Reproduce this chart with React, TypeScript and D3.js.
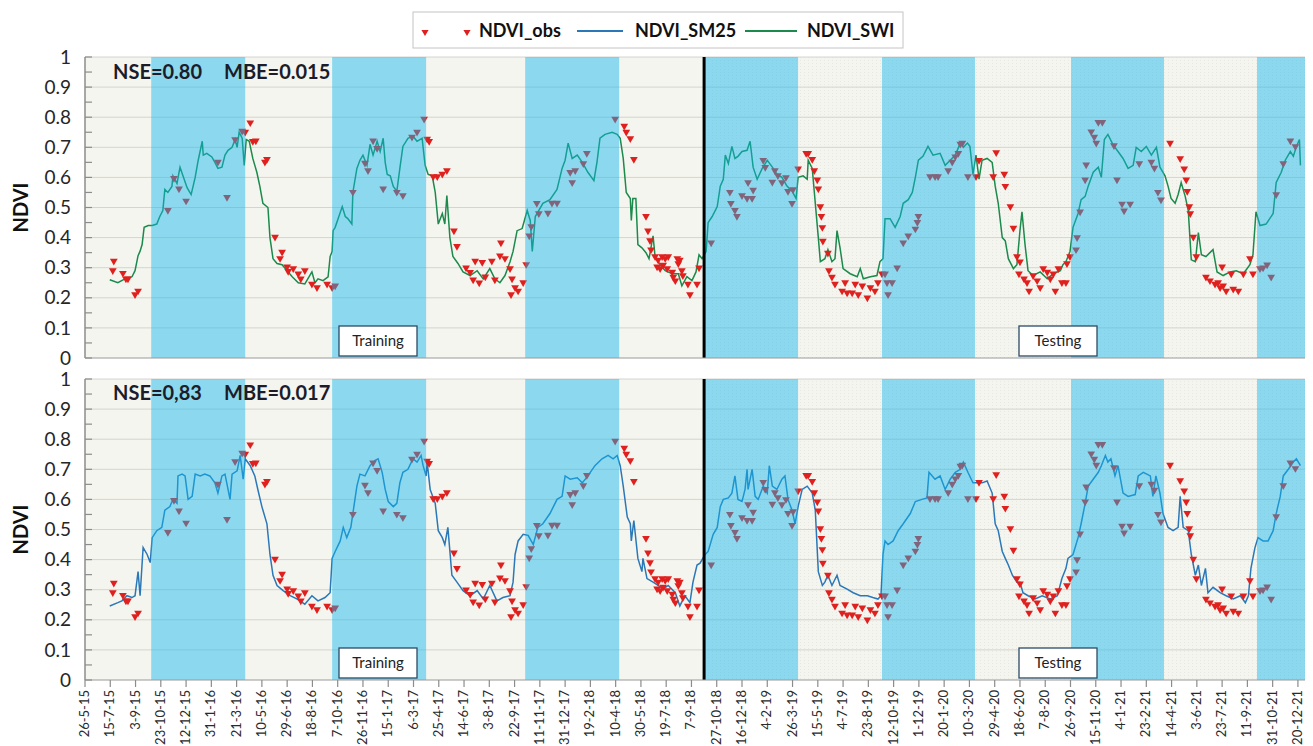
import React, { useEffect, useRef } from "react";
import * as d3 from "d3";

// days are counted from the first tick date, 26-5-2015
const startDate = new Date(2015, 4, 26);
const lastDay = 2414;
const tickDays = d3.range(0, 2401, 50);

// wet season (blue) bands, in days since start
const bandStart = [131, 489, 871, 1225, 1577, 1951, 2319];
const bandEnd = [317, 675, 1057, 1411, 1761, 2135, 2414];
// end of training / start of testing
const splitDay = 1225;

// NDVI_SWI model (top panel), [day, ndvi]
const swiSeries: [number, number][] = [
  [49, 0.26], [65, 0.25], [79, 0.263], [93, 0.27], [99, 0.29], [105, 0.34], [109, 0.355], [113, 0.377], [117, 0.434],
  [125, 0.44], [133, 0.44], [142, 0.445], [148, 0.47], [154, 0.49], [158, 0.56], [164, 0.55], [172, 0.57], [174, 0.605],
  [182, 0.58], [188, 0.634], [194, 0.605], [202, 0.566], [210, 0.543], [218, 0.6], [224, 0.657], [232, 0.72], [234, 0.674],
  [241, 0.68], [251, 0.668], [257, 0.65], [263, 0.63], [271, 0.634], [277, 0.674], [283, 0.69], [291, 0.7], [297, 0.726],
  [301, 0.7], [305, 0.75], [311, 0.73], [315, 0.64], [319, 0.726], [325, 0.72], [332, 0.663], [340, 0.617], [346, 0.57],
  [352, 0.514], [362, 0.5], [366, 0.4], [372, 0.33], [380, 0.314], [390, 0.31], [400, 0.29], [410, 0.27], [422, 0.25],
  [435, 0.246], [449, 0.286], [455, 0.25], [461, 0.263], [471, 0.257], [481, 0.27], [485, 0.337], [489, 0.354], [491, 0.423],
  [495, 0.434], [509, 0.503], [515, 0.47], [520, 0.463], [528, 0.445], [530, 0.55], [538, 0.63], [544, 0.657], [550, 0.674],
  [558, 0.64], [564, 0.71], [570, 0.674], [578, 0.72], [584, 0.686], [590, 0.73], [594, 0.65], [598, 0.61], [604, 0.605],
  [610, 0.57], [617, 0.554], [623, 0.63], [629, 0.703], [639, 0.73], [649, 0.737], [657, 0.72], [667, 0.73], [673, 0.64],
  [679, 0.61], [687, 0.605], [693, 0.55], [699, 0.445], [707, 0.48], [712, 0.445], [716, 0.54], [722, 0.4], [728, 0.337],
  [738, 0.314], [748, 0.286], [762, 0.274], [776, 0.29], [788, 0.263], [801, 0.297], [811, 0.263], [821, 0.25], [831, 0.274],
  [841, 0.32], [847, 0.354], [855, 0.423], [865, 0.43], [875, 0.49], [881, 0.457], [885, 0.354], [891, 0.47], [906, 0.514],
  [920, 0.526], [934, 0.56], [944, 0.63], [950, 0.657], [956, 0.714], [964, 0.663], [974, 0.674], [984, 0.65], [995, 0.617],
  [1007, 0.589], [1013, 0.65], [1019, 0.73], [1029, 0.743], [1043, 0.75], [1053, 0.743], [1059, 0.73], [1065, 0.663],
  [1071, 0.55], [1079, 0.53], [1081, 0.457], [1084, 0.53], [1090, 0.53], [1094, 0.377], [1102, 0.366], [1110, 0.35],
  [1116, 0.33], [1124, 0.406], [1128, 0.337], [1138, 0.31], [1148, 0.29], [1162, 0.28], [1174, 0.28], [1181, 0.24],
  [1191, 0.27], [1201, 0.257], [1209, 0.286], [1215, 0.343], [1221, 0.33], [1229, 0.354], [1233, 0.45], [1241, 0.47],
  [1251, 0.503], [1257, 0.571], [1263, 0.594], [1267, 0.674], [1273, 0.646], [1280, 0.703], [1286, 0.663], [1292, 0.67],
  [1300, 0.686], [1310, 0.69], [1316, 0.72], [1322, 0.634], [1330, 0.594], [1340, 0.63], [1350, 0.657], [1360, 0.634],
  [1369, 0.611], [1379, 0.6], [1389, 0.571], [1399, 0.554], [1407, 0.53], [1411, 0.6], [1421, 0.605], [1429, 0.594],
  [1431, 0.657], [1439, 0.63], [1445, 0.514], [1451, 0.4], [1455, 0.32], [1464, 0.33], [1470, 0.36], [1478, 0.32],
  [1484, 0.33], [1488, 0.423], [1494, 0.366], [1500, 0.297], [1514, 0.28], [1528, 0.27], [1534, 0.297], [1540, 0.263],
  [1554, 0.27], [1567, 0.274], [1573, 0.32], [1579, 0.33], [1583, 0.463], [1593, 0.463], [1603, 0.434], [1613, 0.47],
  [1619, 0.514], [1629, 0.526], [1637, 0.55], [1643, 0.6], [1649, 0.657], [1658, 0.67], [1668, 0.703], [1678, 0.674],
  [1692, 0.68], [1702, 0.64], [1712, 0.657], [1722, 0.674], [1732, 0.714], [1738, 0.7], [1746, 0.714], [1751, 0.703],
  [1757, 0.611], [1763, 0.674], [1769, 0.594], [1775, 0.657], [1785, 0.663], [1795, 0.65], [1801, 0.571], [1807, 0.514],
  [1815, 0.4], [1821, 0.389], [1827, 0.33], [1837, 0.297], [1844, 0.31], [1850, 0.423], [1854, 0.486], [1860, 0.377],
  [1866, 0.29], [1876, 0.274], [1890, 0.286], [1904, 0.263], [1916, 0.28], [1930, 0.29], [1935, 0.31], [1941, 0.32],
  [1949, 0.354], [1955, 0.434], [1965, 0.48], [1971, 0.526], [1979, 0.537], [1985, 0.571], [1995, 0.617], [2005, 0.634],
  [2011, 0.6], [2017, 0.726], [2024, 0.743], [2034, 0.709], [2044, 0.686], [2054, 0.663], [2064, 0.63], [2074, 0.64],
  [2080, 0.7], [2090, 0.686], [2100, 0.703], [2110, 0.674], [2120, 0.7], [2127, 0.634], [2137, 0.605], [2143, 0.571],
  [2149, 0.53], [2157, 0.514], [2163, 0.543], [2169, 0.583], [2177, 0.537], [2183, 0.49], [2189, 0.326], [2197, 0.32],
  [2203, 0.417], [2209, 0.343], [2218, 0.337], [2232, 0.36], [2240, 0.286], [2252, 0.274], [2266, 0.286], [2278, 0.29],
  [2292, 0.28], [2305, 0.31], [2311, 0.343], [2317, 0.486], [2325, 0.44], [2337, 0.445], [2351, 0.48], [2357, 0.583],
  [2367, 0.617], [2375, 0.657], [2385, 0.686], [2391, 0.67], [2397, 0.703], [2403, 0.726], [2405, 0.64],
];

// NDVI_SM25 model (bottom panel), [day, ndvi]
const sm25Series: [number, number][] = [
  [49, 0.246], [65, 0.257], [73, 0.263], [83, 0.28], [93, 0.274], [99, 0.28], [105, 0.36], [109, 0.28], [115, 0.44],
  [123, 0.417], [129, 0.39], [133, 0.473], [142, 0.496], [152, 0.507], [158, 0.564], [168, 0.576], [174, 0.6], [182, 0.587],
  [184, 0.678], [192, 0.684], [198, 0.678], [204, 0.6], [212, 0.61], [218, 0.684], [228, 0.678], [237, 0.684], [247, 0.678],
  [257, 0.655], [263, 0.621], [271, 0.678], [277, 0.684], [287, 0.6], [291, 0.684], [301, 0.695], [307, 0.746], [313, 0.667],
  [317, 0.735], [327, 0.712], [336, 0.678], [342, 0.633], [350, 0.576], [360, 0.519], [366, 0.417], [372, 0.348], [380, 0.314],
  [392, 0.297], [406, 0.28], [420, 0.269], [435, 0.252], [449, 0.28], [461, 0.263], [475, 0.274], [485, 0.29], [489, 0.404],
  [495, 0.427], [505, 0.462], [511, 0.507], [518, 0.473], [526, 0.507], [530, 0.553], [538, 0.644], [544, 0.684], [554, 0.678],
  [564, 0.712], [574, 0.73], [580, 0.735], [588, 0.69], [594, 0.633], [600, 0.593], [610, 0.576], [617, 0.587], [623, 0.655],
  [629, 0.69], [639, 0.7], [649, 0.735], [657, 0.724], [665, 0.746], [669, 0.712], [675, 0.678], [677, 0.724], [683, 0.633],
  [693, 0.587], [699, 0.496], [707, 0.473], [712, 0.45], [718, 0.507], [726, 0.348], [736, 0.325], [748, 0.297], [762, 0.28],
  [776, 0.297], [788, 0.269], [801, 0.314], [815, 0.263], [827, 0.274], [841, 0.28], [847, 0.325], [851, 0.417], [857, 0.462],
  [867, 0.484], [877, 0.48], [887, 0.45], [896, 0.507], [906, 0.519], [920, 0.553], [934, 0.6], [944, 0.61], [950, 0.678],
  [960, 0.667], [974, 0.672], [984, 0.655], [995, 0.678], [1009, 0.712], [1023, 0.735], [1035, 0.746], [1045, 0.735],
  [1053, 0.746], [1059, 0.712], [1065, 0.644], [1073, 0.541], [1079, 0.519], [1081, 0.462], [1086, 0.53], [1094, 0.404],
  [1102, 0.36], [1104, 0.404], [1112, 0.337], [1124, 0.325], [1134, 0.314], [1144, 0.302], [1154, 0.314], [1168, 0.29],
  [1177, 0.246], [1187, 0.28], [1197, 0.257], [1203, 0.325], [1211, 0.382], [1217, 0.388], [1227, 0.417], [1233, 0.427],
  [1243, 0.484], [1251, 0.507], [1257, 0.576], [1263, 0.6], [1273, 0.605], [1280, 0.621], [1286, 0.678], [1292, 0.6],
  [1300, 0.593], [1306, 0.633], [1310, 0.7], [1312, 0.633], [1320, 0.7], [1326, 0.61], [1332, 0.6], [1342, 0.644],
  [1350, 0.621], [1354, 0.712], [1360, 0.644], [1369, 0.633], [1379, 0.667], [1385, 0.678], [1391, 0.6], [1399, 0.564],
  [1405, 0.519], [1411, 0.576], [1419, 0.633], [1429, 0.644], [1439, 0.621], [1445, 0.564], [1451, 0.36], [1459, 0.314],
  [1464, 0.325], [1470, 0.348], [1478, 0.314], [1488, 0.348], [1494, 0.314], [1508, 0.302], [1520, 0.29], [1534, 0.28],
  [1548, 0.28], [1559, 0.274], [1569, 0.269], [1575, 0.28], [1579, 0.417], [1583, 0.462], [1589, 0.45], [1599, 0.462],
  [1609, 0.496], [1619, 0.519], [1633, 0.553], [1643, 0.593], [1656, 0.6], [1666, 0.605], [1670, 0.69], [1682, 0.667],
  [1692, 0.678], [1702, 0.633], [1712, 0.667], [1722, 0.69], [1732, 0.7], [1738, 0.724], [1747, 0.69], [1757, 0.655],
  [1765, 0.655], [1775, 0.655], [1785, 0.661], [1795, 0.621], [1801, 0.519], [1807, 0.496], [1815, 0.427], [1821, 0.404],
  [1827, 0.382], [1835, 0.348], [1844, 0.325], [1850, 0.325], [1856, 0.29], [1866, 0.28], [1880, 0.269], [1894, 0.28],
  [1910, 0.269], [1924, 0.28], [1933, 0.337], [1941, 0.371], [1945, 0.404], [1955, 0.417], [1965, 0.473], [1971, 0.519],
  [1979, 0.587], [1985, 0.644], [1995, 0.667], [2005, 0.69], [2011, 0.712], [2019, 0.746], [2024, 0.724], [2030, 0.735],
  [2038, 0.678], [2044, 0.712], [2054, 0.621], [2064, 0.61], [2078, 0.616], [2084, 0.678], [2094, 0.69], [2108, 0.678],
  [2113, 0.61], [2119, 0.678], [2127, 0.621], [2133, 0.553], [2143, 0.507], [2153, 0.496], [2163, 0.507], [2167, 0.61],
  [2173, 0.507], [2183, 0.496], [2189, 0.417], [2197, 0.348], [2203, 0.382], [2209, 0.314], [2217, 0.371], [2222, 0.29],
  [2232, 0.308], [2246, 0.29], [2258, 0.28], [2272, 0.269], [2286, 0.28], [2296, 0.257], [2302, 0.28], [2307, 0.371],
  [2315, 0.44], [2321, 0.473], [2331, 0.462], [2341, 0.462], [2351, 0.496], [2357, 0.553], [2365, 0.61], [2371, 0.678],
  [2381, 0.7], [2391, 0.724], [2397, 0.735], [2405, 0.712],
];

// observed NDVI, [day, ndvi]
const obsSeries: [number, number][] = [
  [55, 0.291], [57, 0.322], [75, 0.282], [81, 0.263], [85, 0.263], [99, 0.211], [105, 0.223], [164, 0.491], [176, 0.597],
  [186, 0.562], [200, 0.522], [263, 0.651], [281, 0.534], [297, 0.726], [311, 0.754], [317, 0.751], [327, 0.782], [332, 0.72],
  [338, 0.722], [356, 0.651], [360, 0.66], [376, 0.402], [386, 0.331], [390, 0.352], [400, 0.303], [402, 0.288], [412, 0.297],
  [422, 0.28], [427, 0.263], [435, 0.291], [449, 0.246], [459, 0.234], [479, 0.246], [489, 0.234], [495, 0.24], [530, 0.551],
  [554, 0.648], [560, 0.623], [570, 0.722], [578, 0.697], [590, 0.562], [617, 0.551], [629, 0.54], [647, 0.734], [657, 0.751],
  [671, 0.794], [677, 0.728], [681, 0.72], [689, 0.603], [697, 0.603], [707, 0.611], [716, 0.623], [730, 0.423], [736, 0.371],
  [754, 0.3], [762, 0.285], [768, 0.26], [772, 0.322], [780, 0.25], [786, 0.318], [792, 0.27], [805, 0.322], [811, 0.26],
  [821, 0.34], [823, 0.383], [831, 0.331], [841, 0.297], [843, 0.211], [845, 0.263], [851, 0.234], [857, 0.223], [867, 0.251],
  [873, 0.311], [879, 0.406], [883, 0.437], [894, 0.514], [898, 0.48], [916, 0.482], [924, 0.515], [934, 0.515], [960, 0.617],
  [964, 0.583], [970, 0.623], [986, 0.646], [993, 0.68], [1049, 0.794], [1067, 0.771], [1071, 0.751], [1079, 0.729],
  [1086, 0.66], [1110, 0.471], [1114, 0.423], [1118, 0.39], [1120, 0.36], [1128, 0.337], [1132, 0.303], [1134, 0.326],
  [1138, 0.297], [1142, 0.337], [1144, 0.309], [1148, 0.331], [1152, 0.297], [1154, 0.337], [1162, 0.286], [1164, 0.269],
  [1168, 0.257], [1172, 0.331], [1174, 0.314], [1177, 0.326], [1181, 0.291], [1183, 0.274], [1193, 0.246], [1197, 0.211],
  [1211, 0.246], [1215, 0.3], [1239, 0.383], [1276, 0.551], [1278, 0.514], [1286, 0.491], [1290, 0.471], [1300, 0.54],
  [1310, 0.531], [1312, 0.583], [1320, 0.531], [1322, 0.558], [1342, 0.657], [1346, 0.634], [1360, 0.585], [1365, 0.623],
  [1371, 0.606], [1379, 0.583], [1387, 0.6], [1391, 0.554], [1399, 0.514], [1401, 0.56], [1411, 0.629], [1427, 0.68],
  [1431, 0.68], [1439, 0.66], [1443, 0.623], [1449, 0.592], [1451, 0.562], [1455, 0.503], [1457, 0.471], [1459, 0.434],
  [1460, 0.389], [1470, 0.349], [1472, 0.291], [1478, 0.269], [1484, 0.246], [1498, 0.223], [1504, 0.251], [1508, 0.217],
  [1518, 0.217], [1524, 0.246], [1530, 0.211], [1538, 0.24], [1548, 0.2], [1554, 0.234], [1563, 0.223], [1569, 0.251],
  [1577, 0.28], [1583, 0.28], [1587, 0.251], [1589, 0.211], [1597, 0.251], [1607, 0.3], [1619, 0.383], [1629, 0.406],
  [1643, 0.429], [1647, 0.451], [1649, 0.471], [1672, 0.603], [1682, 0.603], [1688, 0.603], [1708, 0.623], [1716, 0.651],
  [1722, 0.669], [1728, 0.68], [1732, 0.711], [1736, 0.714], [1747, 0.603], [1763, 0.603], [1769, 0.657], [1797, 0.603],
  [1803, 0.683], [1819, 0.611], [1821, 0.571], [1831, 0.503], [1837, 0.432], [1844, 0.337], [1848, 0.28], [1850, 0.32],
  [1858, 0.263], [1864, 0.251], [1868, 0.223], [1876, 0.274], [1884, 0.257], [1890, 0.234], [1896, 0.297], [1904, 0.286],
  [1910, 0.263], [1916, 0.28], [1920, 0.223], [1926, 0.297], [1933, 0.251], [1941, 0.251], [1943, 0.314], [1949, 0.337],
  [1961, 0.36], [1963, 0.4], [1969, 0.486], [1979, 0.592], [1981, 0.642], [1991, 0.752], [1997, 0.734], [2001, 0.714],
  [2005, 0.783], [2013, 0.783], [2036, 0.706], [2042, 0.592], [2052, 0.512], [2056, 0.489], [2068, 0.512], [2086, 0.646],
  [2110, 0.651], [2116, 0.631], [2123, 0.551], [2129, 0.526], [2147, 0.714], [2167, 0.663], [2175, 0.629], [2179, 0.592],
  [2181, 0.554], [2185, 0.503], [2187, 0.48], [2193, 0.402], [2199, 0.337], [2218, 0.269], [2226, 0.257], [2236, 0.246],
  [2242, 0.251], [2246, 0.234], [2250, 0.303], [2252, 0.24], [2258, 0.223], [2268, 0.28], [2272, 0.229], [2282, 0.223],
  [2292, 0.28], [2305, 0.331], [2311, 0.28], [2325, 0.297], [2331, 0.3], [2339, 0.31], [2347, 0.269], [2357, 0.543],
  [2371, 0.646], [2385, 0.722], [2395, 0.703],
];

const yTicks = d3.range(0, 11).map(d => d / 10);

function App() {
  const ref = useRef<SVGSVGElement>(null);

  useEffect(() => {
    document.body.style.margin = "0";
    drawChart();
  }, []);

  const drawChart = () => {
    const font = "Lato, 'Open Sans', sans-serif";
    const svg = d3.select(ref.current);
    svg.selectAll("*").remove();

    const x = d3.scaleLinear().domain([0, lastDay]).range([85, 1305]);
    const fmt = d3.timeFormat("%-d-%-m-%y");

    // faint dotted texture used in the testing period
    const defs = svg.append("defs");
    const pat = defs.append("pattern")
      .attr("id", "dots")
      .attr("width", 4)
      .attr("height", 3)
      .attr("patternUnits", "userSpaceOnUse");
    pat.append("rect").attr("width", 1).attr("height", 1).attr("fill", "rgba(0,0,0,0.055)");

    const panels = [
      { top: 57, bottom: 358, series: swiSeries, color: "#1b8a4c", nse: "NSE=0.80", mbe: "MBE=0.015", textY: 79 },
      { top: 379, bottom: 680, series: sm25Series, color: "#2a78b8", nse: "NSE=0,83", mbe: "MBE=0.017", textY: 400 },
    ];

    panels.forEach(p => {
      const y = d3.scaleLinear().domain([0, 1]).range([p.bottom, p.top]);
      const g = svg.append("g");

      // background
      g.append("rect")
        .attr("x", x(0)).attr("y", p.top)
        .attr("width", x(lastDay) - x(0)).attr("height", p.bottom - p.top)
        .attr("fill", "#f5f5ef");
      g.append("rect")
        .attr("x", x(splitDay)).attr("y", p.top)
        .attr("width", x(lastDay) - x(splitDay)).attr("height", p.bottom - p.top)
        .attr("fill", "url(#dots)");

      // gridlines
      g.selectAll(".grid")
        .data(yTicks.slice(1))
        .enter()
        .append("line")
        .attr("x1", x(0)).attr("x2", x(lastDay))
        .attr("y1", d => y(d)).attr("y2", d => y(d))
        .attr("stroke", "#d4d4d0").attr("stroke-width", 1);

      // model line
      g.append("path")
        .datum(p.series)
        .attr("fill", "none")
        .attr("stroke", p.color)
        .attr("stroke-width", 1.5)
        .attr("d", d3.line<[number, number]>().x(d => x(d[0])).y(d => y(d[1])));

      // observations: downward triangles
      const tri = d3.symbol().type(d3.symbolTriangle).size(26);
      g.selectAll(".obs")
        .data(obsSeries)
        .enter()
        .append("path")
        .attr("d", tri as any)
        .attr("transform", d => `translate(${x(d[0])},${y(d[1])}) rotate(180)`)
        .attr("fill", "#e0201e");

      // wet season bands lie over the data (translucent)
      g.selectAll(".band")
        .data(bandStart)
        .enter()
        .append("rect")
        .attr("x", d => x(d))
        .attr("y", p.top)
        .attr("width", (d, i) => x(bandEnd[i]) - x(d))
        .attr("height", p.bottom - p.top)
        .attr("fill", "rgb(14,183,239)")
        .attr("fill-opacity", 0.45);

      // training / testing split
      g.append("line")
        .attr("x1", x(splitDay)).attr("x2", x(splitDay))
        .attr("y1", p.top).attr("y2", p.bottom)
        .attr("stroke", "#000").attr("stroke-width", 3);

      // axes
      g.append("line")
        .attr("x1", x(0)).attr("x2", x(0)).attr("y1", p.top).attr("y2", p.bottom)
        .attr("stroke", "#8c8c8c").attr("stroke-width", 1.5);
      g.append("line")
        .attr("x1", x(0)).attr("x2", x(lastDay)).attr("y1", p.bottom).attr("y2", p.bottom)
        .attr("stroke", "#9a9a9a").attr("stroke-width", 1.2);
      g.selectAll(".ytick")
        .data(d3.range(0, 21).map(d => d / 20))
        .enter()
        .append("line")
        .attr("x1", x(0)).attr("x2", x(0) + 7)
        .attr("y1", d => y(d)).attr("y2", d => y(d))
        .attr("stroke", "#8c8c8c").attr("stroke-width", 1.2);
      g.selectAll(".ylab")
        .data(yTicks)
        .enter()
        .append("text")
        .attr("x", 71)
        .attr("y", d => y(d))
        .attr("dy", "0.35em")
        .attr("text-anchor", "end")
        .style("font-family", font)
        .style("font-size", "19px")
        .attr("fill", "#262626")
        .text(d => (d === 0 ? "0" : d === 1 ? "1" : d.toFixed(1)));

      g.append("text")
        .attr("transform", `translate(28,${(p.top + p.bottom) / 2}) rotate(-90)`)
        .attr("text-anchor", "middle")
        .style("font-family", font)
        .style("font-size", "20px")
        .style("font-weight", "bold")
        .attr("fill", "#111")
        .text("NDVI");

      // scores
      g.append("text")
        .attr("x", 113).attr("y", p.textY)
        .style("font-family", font).style("font-size", "20px").style("font-weight", "bold")
        .attr("fill", "#1c1c2a")
        .text(p.nse);
      g.append("text")
        .attr("x", 224).attr("y", p.textY)
        .style("font-family", font).style("font-size", "20px").style("font-weight", "bold")
        .attr("fill", "#1c1c2a")
        .text(p.mbe);

      // period labels
      [["Training", 339], ["Testing", 1019]].forEach(([label, bx]) => {
        g.append("rect")
          .attr("x", bx as number).attr("y", p.bottom - 32)
          .attr("width", 78).attr("height", 30)
          .attr("fill", "#fff")
          .attr("stroke", "#2c4a66").attr("stroke-width", 1.3);
        g.append("text")
          .attr("x", (bx as number) + 39).attr("y", p.bottom - 12)
          .attr("text-anchor", "middle")
          .style("font-family", font).style("font-size", "15px")
          .attr("fill", "#222")
          .text(label as string);
      });
    });

    // x axis ticks and date labels under the bottom panel
    const xa = svg.append("g");
    xa.selectAll(".xtick")
      .data(tickDays)
      .enter()
      .append("line")
      .attr("x1", d => x(d)).attr("x2", d => x(d))
      .attr("y1", 680).attr("y2", 687)
      .attr("stroke", "#8c8c8c").attr("stroke-width", 1.2);
    xa.selectAll(".xlab")
      .data(tickDays)
      .enter()
      .append("text")
      .attr("transform", d => `translate(${x(d) + 4},${690}) rotate(-90)`)
      .attr("text-anchor", "end")
      .style("font-family", font)
      .style("font-size", "13px")
      .attr("fill", "#2a2a2a")
      .text(d => fmt(d3.timeDay.offset(startDate, d)));

    // legend
    const lg = svg.append("g");
    lg.append("rect")
      .attr("x", 413).attr("y", 12).attr("width", 490).attr("height", 36)
      .attr("fill", "#fff").attr("stroke", "#c4c4c4");
    const tri = d3.symbol().type(d3.symbolTriangle).size(22);
    [425, 467].forEach(mx => {
      lg.append("path").attr("d", tri as any)
        .attr("transform", `translate(${mx},32) rotate(180)`)
        .attr("fill", "#e0201e");
    });
    const legendText = (tx: number, label: string) =>
      lg.append("text")
        .attr("x", tx).attr("y", 37)
        .style("font-family", font).style("font-size", "18px").style("font-weight", "bold")
        .attr("fill", "#111")
        .text(label);
    legendText(479, "NDVI_obs");
    lg.append("line").attr("x1", 577).attr("x2", 623).attr("y1", 31).attr("y2", 31)
      .attr("stroke", "#2a78b8").attr("stroke-width", 2);
    legendText(635, "NDVI_SM25");
    lg.append("line").attr("x1", 745).attr("x2", 797).attr("y1", 31).attr("y2", 31)
      .attr("stroke", "#1b8a4c").attr("stroke-width", 2);
    legendText(807, "NDVI_SWI");
  };

  return <svg ref={ref} width={1313} height={746} style={{ display: "block", background: "#fff" }} />;
}

export default App;
